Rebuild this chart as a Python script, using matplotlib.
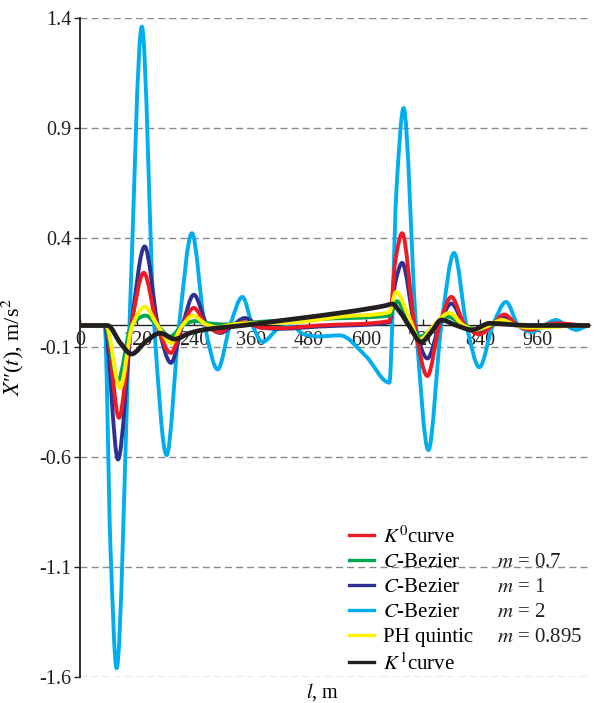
import numpy as np
import matplotlib
matplotlib.use("Agg")
import matplotlib.pyplot as plt
from matplotlib.path import Path
from matplotlib.patches import PathPatch
from matplotlib.lines import Line2D

plt.rcParams["font.family"] = ["Liberation Serif", "DejaVu Serif"]
plt.rcParams["mathtext.fontset"] = "stix"
plt.rcParams["axes.unicode_minus"] = False

# Values (l in m, X'' in m/s^2)
k0_l = [0, 54, 82, 108, 134, 162, 191, 215, 239, 266, 293, 320, 345, 380, 420, 500, 649,
        662, 676, 702, 729, 754, 779, 808, 838, 864, 890, 918, 945, 972, 999, 1068]
k0_y = [0, 0, -0.42, 0, 0.24, 0, -0.125, 0, 0.08, 0, -0.03, 0, 0.015, -0.01, -0.012, 0.0, 0.02,
        0.3, 0.42, 0, -0.23, 0, 0.13, 0, -0.04, 0, 0.05, 0, -0.02, 0, 0.01, 0]

cb07_l = [0, 53, 80, 108, 138, 162, 190, 215, 242, 270, 300, 400, 500, 649,
          665, 690, 714, 745, 772, 805, 832, 860, 885, 920, 1068]
cb07_y = [0, 0, -0.25, 0, 0.045, 0, -0.05, 0, 0.02, 0.01, 0.005, 0.02, 0.03, 0.045,
          0.11, 0.02, -0.05, 0.0, 0.04, 0, -0.015, 0, 0.015, 0, 0]

cb1_l = [0, 52, 80, 108, 136, 164, 191, 215, 239, 268, 295, 320, 346, 380, 420, 500, 649,
         662, 676, 702, 729, 754, 779, 808, 838, 864, 890, 918, 945, 972, 1068]
cb1_y = [0, 0, -0.61, 0, 0.36, 0, -0.17, 0, 0.14, 0, -0.034, 0, 0.034, -0.01, -0.015, -0.005, 0.015,
         0.2, 0.285, 0, -0.15, 0, 0.10, 0, -0.03, 0, 0.04, 0, -0.015, 0, 0]

cb2_l = [0, 52, 64, 77, 104, 130, 156, 182, 208, 235, 262, 289, 315, 341, 362, 383, 420, 445,
         470, 500, 545, 600, 649, 664, 679, 705, 731, 758, 785, 811, 838, 866, 894, 920, 947,
         973, 999, 1020, 1041, 1068]
cb2_y = [0, 0, -1.0, -1.56, 0, 1.36, 0, -0.59, 0, 0.42, 0, -0.20, 0, 0.13, 0, -0.075, -0.01, -0.005,
         -0.04, -0.05, -0.045, -0.14, -0.26, 0.62, 0.99, 0, -0.567, 0, 0.33, 0, -0.19, 0, 0.107, 0, -0.03,
         0, 0.025, 0, -0.02, 0]

ph_l = [0, 55, 84, 110, 136, 163, 191, 215, 237, 265, 290, 320, 350, 450, 545, 649,
        663, 690, 712, 742, 775, 805, 830, 858, 885, 915, 940, 1068]
ph_y = [0, 0, -0.285, 0, 0.085, 0, -0.08, 0, 0.045, 0.005, -0.008, 0.005, 0.01, 0.015, 0.04, 0.06,
        0.152, 0.04, -0.065, 0, 0.057, 0, -0.02, 0, 0.025, 0, -0.01, 0]

k1_l = [0, 58, 85, 108, 140, 168, 199, 230, 258, 341, 450, 565, 640, 655, 672, 690, 716, 737,
        758, 790, 823, 860, 900, 940, 1068]
k1_y = [0, 0, -0.08, -0.13, -0.07, -0.035, -0.062, -0.035, -0.02, 0.0, 0.03, 0.063, 0.09, 0.098,
        0.06, 0.0, -0.075, -0.03, 0.025, 0.0, -0.02, 0.01, 0.005, 0.0, 0.0]

names = ["$K^0$curve", "$C$-Bezier", "$C$-Bezier", "$C$-Bezier", "PH quintic", "$K^1$curve"]
m_labels = ["", "$m$ = 0.7", "$m$ = 1", "$m$ = 2", "$m$ = 0.895", ""]
colors = ["#ED1C24", "#00A651", "#2E3192", "#00AEEF", "#FFF200", "#231F20"]

x_ticks = [0, 120, 240, 360, 480, 600, 720, 840, 960]
y_ticks = [-1.6, -1.1, -0.6, -0.1, 0.4, 0.9, 1.4]
y_ticklabels = ["-1.6", "-1.1", "-0.6", "-0.1", "0.4", "0.9", "1.4"]


def smooth_path(xs, ys):
    """Monotone cubic (pchip style) bezier path through the given points."""
    x = np.asarray(xs, float)
    y = np.asarray(ys, float)
    h = np.diff(x)
    d = np.diff(y) / h
    m = np.zeros_like(y)
    for i in range(1, len(x) - 1):
        if d[i - 1] * d[i] > 0:
            w1 = 2 * h[i] + h[i - 1]
            w2 = h[i] + 2 * h[i - 1]
            m[i] = (w1 + w2) / (w1 / d[i - 1] + w2 / d[i])
    verts = [(x[0], y[0])]
    codes = [Path.MOVETO]
    for i in range(len(h)):
        verts += [(x[i] + h[i] / 3, y[i] + m[i] * h[i] / 3),
                  (x[i + 1] - h[i] / 3, y[i + 1] - m[i + 1] * h[i] / 3),
                  (x[i + 1], y[i + 1])]
        codes += [Path.CURVE4] * 3
    return Path(verts, codes)


fig = plt.figure(figsize=(5.96, 7.03), dpi=100)
ax = fig.add_axes([0.134, 0.037, 0.856, 0.9375])

series = [(k0_l, k0_y), (cb07_l, cb07_y), (cb1_l, cb1_y), (cb2_l, cb2_y), (ph_l, ph_y), (k1_l, k1_y)]
order = [3, 2, 0, 1, 4, 5]  # drawing order, black on top
for z, i in enumerate(order):
    lx, ly = series[i]
    lw = 3.4 if i == 5 else 2.8
    ax.add_patch(PathPatch(smooth_path(lx, ly), fill=False, edgecolor=colors[i], lw=lw,
                           capstyle="round", joinstyle="round", zorder=3 + z))

ax.set_xlim(0, 1070)
ax.set_ylim(-1.6, 1.4)

# axes look
for side in ["top", "right"]:
    ax.spines[side].set_visible(False)
ax.spines["bottom"].set_position(("data", 0))
ax.spines["bottom"].set_color("#231F20")
ax.spines["bottom"].set_linewidth(1.0)
ax.spines["left"].set_color("#231F20")
ax.spines["left"].set_linewidth(1.3)

ax.set_yticks(y_ticks)
ax.set_yticklabels(y_ticklabels)
ax.set_xticks(x_ticks)
ax.tick_params(axis="y", direction="out", length=4, width=1, labelsize=14.5, pad=2, colors="#231F20")
ax.tick_params(axis="x", direction="in", length=4, width=1, labelsize=14.5, pad=4, colors="#231F20")
ax.yaxis.grid(True, color="#8a8a8a", lw=1.0, linestyle=(0, (5, 3)))

ax.set_ylabel("$X$\u2033($t$), m/s$^2$", fontsize=16)
ax.yaxis.set_label_coords(-0.105, 0.50)
ax.set_xlabel("$l$, m", fontsize=14.5)
ax.xaxis.set_label_coords(0.476, -0.006)

handles = [Line2D([], [], color=c, lw=2.4) for c in colors]
leg = ax.legend(handles, names, loc="upper left", bbox_to_anchor=(349 / 596, 1 - 526 / 703),
                bbox_transform=fig.transFigure, frameon=False, fontsize=15, borderpad=0,
                borderaxespad=0, handlelength=1.2, handletextpad=0.45, labelspacing=0.26)

fig.canvas.draw()
inv = fig.transFigure.inverted()
for txt, lab in zip(leg.get_texts(), m_labels):
    if not lab:
        continue
    bb = txt.get_window_extent()
    yc = inv.transform((0, (bb.y0 + bb.y1) / 2))[1]
    fig.text(497 / 596, yc, lab, fontsize=15, va="center", ha="left", color="#231F20")

fig.savefig("out.png", dpi=100)
